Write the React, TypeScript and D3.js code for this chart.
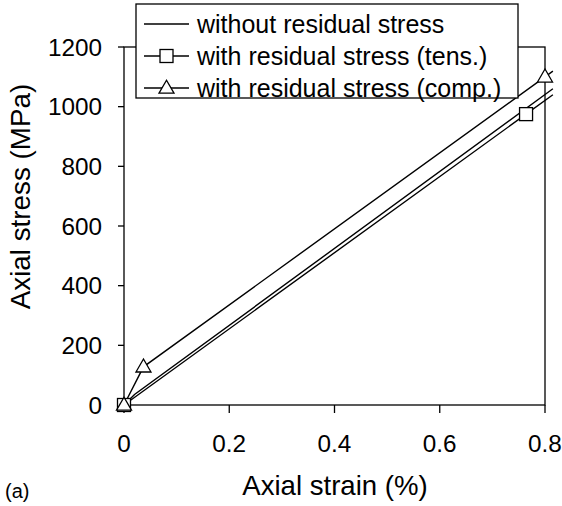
import React from "react"
import * as d3 from "d3"

// values
const xTicks = [0, 0.2, 0.4, 0.6, 0.8]
const xTickLabels = ["0", "0.2", "0.4", "0.6", "0.8"]
const yTicks = [0, 200, 400, 600, 800, 1000, 1200]

const strainWithout = [0, 0.02, 0.815]
const stressWithout = [0, 35, 1060]

const strainTens = [0, 0.764, 0.815]
const stressTens = [0, 975, 1040]
const markerCountTens = 2

const strainComp = [0, 0.037, 0.8, 0.815]
const stressComp = [0, 128, 1100, 1119]
const markerCountComp = 3

const legendLabels = [
    "without residual stress",
    "with residual stress (tens.)",
    "with residual stress (comp.)",
]

const FONT = "'Liberation Sans', Arial, sans-serif"

function Square({ x, y }: { x: number; y: number }) {
    const s = 13
    return (
        <rect x={x - s / 2} y={y - s / 2} width={s} height={s}
            fill="#fff" stroke="#000" strokeWidth={1.3} />
    )
}

function Triangle({ x, y }: { x: number; y: number }) {
    const w = 15
    const h = 13
    const pts = `${x},${y - h * 0.6} ${x - w / 2},${y + h * 0.4} ${x + w / 2},${y + h * 0.4}`
    return <polygon points={pts} fill="#fff" stroke="#000" strokeWidth={1.3} />
}

export default function App() {
    const width = 562
    const height = 506
    const x = d3.scaleLinear().domain([0, 0.8]).range([124, 545])
    const y = d3.scaleLinear().domain([0, 1200]).range([405, 47])

    const line = d3
        .line<[number, number]>()
        .x((d) => x(d[0]))
        .y((d) => y(d[1]))

    const zip = (a: number[], b: number[]) =>
        a.map((v, i) => [v, b[i]] as [number, number])

    const without = zip(strainWithout, stressWithout)
    const tens = zip(strainTens, stressTens)
    const comp = zip(strainComp, stressComp)

    // legend box
    const lgX = 136
    const lgY = 4
    const lgW = 382
    const lgH = 94
    const rowY = [24, 56, 88]

    return (
        <svg width={width} height={height}
            style={{ position: "absolute", left: 0, top: 0, background: "#fff" }}
            fontFamily={FONT}>
            {/* frame */}
            <rect x={x(0)} y={y(1200)} width={x(0.8) - x(0)} height={y(0) - y(1200)}
                fill="none" stroke="#000" strokeWidth={1.3} />

            {/* y ticks */}
            {yTicks.map((t) => (
                <g key={t}>
                    <line x1={x(0) - 6} x2={x(0)} y1={y(t)} y2={y(t)} stroke="#000" strokeWidth={1.3} />
                    <text x={102} y={y(t)} dy="0.36em" textAnchor="end" fontSize={24.3}>{t}</text>
                </g>
            ))}

            {/* x ticks */}
            {xTicks.map((t, i) => (
                <g key={t}>
                    <line x1={x(t)} x2={x(t)} y1={y(0)} y2={y(0) + 8} stroke="#000" strokeWidth={1.3} />
                    <text x={x(t)} y={452} textAnchor="middle" fontSize={24.3}>{xTickLabels[i]}</text>
                </g>
            ))}

            {/* axis titles */}
            <text x={335} y={495} textAnchor="middle" fontSize={27.6}>Axial strain (%)</text>
            <text transform={`translate(30,${(83 + 310) / 2}) rotate(-90)`} textAnchor="middle" fontSize={27.8}>
                Axial stress (MPa)
            </text>
            <text x={5} y={498} fontSize={20}>(a)</text>

            {/* series */}
            <path d={line(without) || ""} fill="none" stroke="#000" strokeWidth={1.4} />
            <path d={line(tens) || ""} fill="none" stroke="#000" strokeWidth={1.4} />
            <path d={line(comp) || ""} fill="none" stroke="#000" strokeWidth={1.4} />
            {tens.slice(0, markerCountTens).map((d, i) => (
                <Square key={"s" + i} x={x(d[0])} y={y(d[1])} />
            ))}
            {comp.slice(0, markerCountComp).map((d, i) => (
                <Triangle key={"t" + i} x={x(d[0])} y={y(d[1])} />
            ))}

            {/* legend */}
            <rect x={lgX} y={lgY} width={lgW} height={lgH} fill="#fff" stroke="#000" strokeWidth={1.3} />
            {legendLabels.map((lab, i) => (
                <g key={lab}>
                    <line x1={144} x2={189} y1={rowY[i]} y2={rowY[i]} stroke="#000" strokeWidth={1.4} />
                    {i === 1 && <Square x={166.5} y={rowY[i]} />}
                    {i === 2 && <Triangle x={166.5} y={rowY[i]} />}
                    <text x={197} y={rowY[i]} dy="0.36em" fontSize={25}>{lab}</text>
                </g>
            ))}
        </svg>
    )
}
